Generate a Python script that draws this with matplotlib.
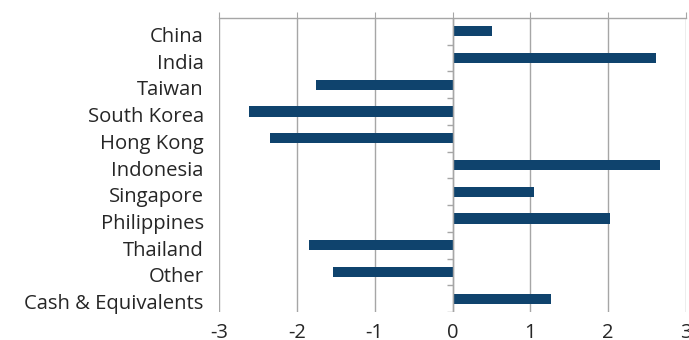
import numpy as np
import matplotlib.pyplot as plt
import matplotlib.transforms as mtransforms

plt.rcParams['font.family'] = ['Open Sans', 'DejaVu Sans']

categories = ['China', 'India', 'Taiwan', 'South Korea', 'Hong Kong', 'Indonesia',
              'Singapore', 'Philippines', 'Thailand', 'Other', 'Cash & Equivalents']
values = [0.51, 2.62, -1.75, -2.61, -2.35, 2.66, 1.05, 2.02, -1.84, -1.53, 1.27]
x_ticks = [-3, -2, -1, 0, 1, 2, 3]

bar_color = '#0f436d'
grid_color = '#a6a6a6'
text_color = '#262626'

fig = plt.figure(figsize=(6.89, 3.40), dpi=100)
ax = fig.add_axes([0.318, 0.0824, 0.6776, 0.8646])

y = np.arange(len(categories))
ax.barh(y, values, height=0.38, color=bar_color, zorder=3)

ax.set_xlim(-3, 3)
ax.set_ylim(len(categories) - 0.5, -0.5)
ax.set_xticks(x_ticks)
ax.set_xticklabels([str(t) for t in x_ticks])
ax.set_yticks(y)
ax.set_yticklabels(categories)

ax.grid(axis='x', color=grid_color, lw=1, zorder=0)
for s in ['left', 'right', 'bottom']:
    ax.spines[s].set_visible(False)
ax.spines['top'].set_color(grid_color)
ax.spines['top'].set_linewidth(1)

ax.tick_params(axis='x', top=True, bottom=False, labeltop=False, labelbottom=True,
               length=4, color=grid_color, labelsize=14.5, pad=4, labelcolor=text_color)
ax.tick_params(axis='y', length=0, labelsize=14.6, pad=11, labelcolor=text_color)

# category labels sit a little below the bar centres in the original
shift = mtransforms.ScaledTranslation(0, -3 / 100, fig.dpi_scale_trans)
for lbl in ax.get_yticklabels():
    lbl.set_transform(lbl.get_transform() + shift)

# value axis at zero with small category separator ticks
ax.axvline(0, color=grid_color, lw=1, zorder=4)
bounds = np.arange(len(categories)) + 0.5
ax.hlines(bounds, -0.07, 0, color=grid_color, lw=1, zorder=4)

fig.savefig('out.png', dpi=100)
